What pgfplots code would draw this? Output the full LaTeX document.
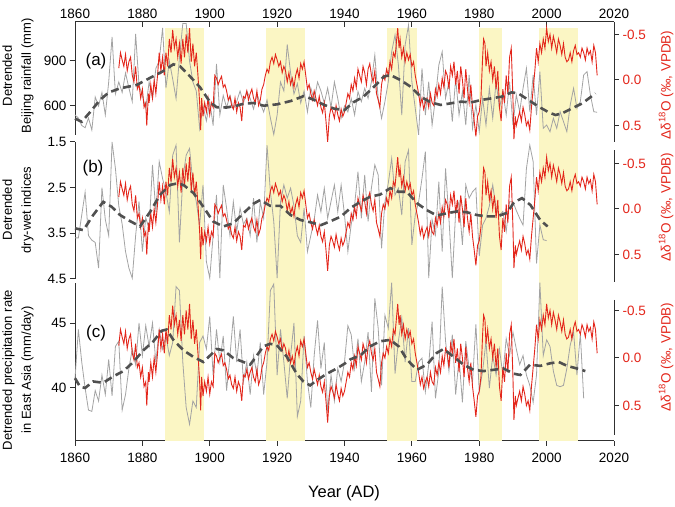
\documentclass[border=0pt]{standalone}
\usepackage{pgfplots}
\usepackage{pgfplotstable}
\pgfplotsset{compat=1.18}
\usepackage{fontspec}
\setmainfont{Liberation Sans}
\definecolor{myred}{HTML}{E3261B}
\definecolor{mygray}{HTML}{A3A3A3}
\definecolor{mydash}{HTML}{505050}
\definecolor{myyellow}{HTML}{FBF6C4}
\definecolor{axcol}{HTML}{303030}

\pgfplotstableread[row sep=\\]{year d\\
1873.0 -0.13\\ 1873.5 -0.30\\ 1874.0 -0.22\\ 1874.5 -0.15\\ 1875.0 -0.28\\ 1875.5 -0.10\\ 1876.0 -0.20\\ 1876.5 -0.25\\ 1877.0 -0.05\\ 1877.5 0.02\\
1878.0 -0.15\\ 1878.5 0.10\\ 1879.0 0.05\\ 1879.5 0.20\\ 1880.0 0.10\\ 1880.5 0.30\\ 1881.0 0.25\\ 1881.3 0.50\\ 1881.8 0.15\\ 1882.0 0.25\\
1882.5 0.05\\ 1883.0 0.20\\ 1883.5 0.00\\ 1884.0 0.15\\ 1884.5 -0.05\\ 1885.0 -0.30\\ 1885.5 -0.10\\ 1886.0 -0.25\\ 1886.5 -0.05\\ 1887.0 -0.30\\
1887.5 -0.15\\ 1888.0 -0.45\\ 1888.5 -0.30\\ 1889.0 -0.55\\ 1889.5 -0.35\\ 1890.0 -0.45\\ 1890.5 -0.25\\ 1891.0 -0.40\\ 1891.5 -0.18\\ 1892.0 -0.45\\
1892.5 -0.25\\ 1893.0 -0.50\\ 1893.5 -0.30\\ 1894.0 -0.57\\ 1894.5 -0.20\\ 1895.0 -0.40\\ 1895.5 -0.15\\ 1896.0 -0.30\\ 1896.5 -0.05\\ 1897.0 0.25\\
1897.3 0.55\\ 1897.6 0.20\\ 1898.0 0.40\\ 1898.5 0.25\\ 1899.0 0.35\\ 1899.5 0.20\\ 1900.0 0.38\\ 1900.5 0.25\\ 1901.0 0.30\\ 1901.5 -0.05\\
1902.0 -0.02\\ 1902.5 0.05\\ 1903.0 0.00\\ 1903.5 -0.04\\ 1904.0 0.08\\ 1904.5 0.05\\ 1905.0 0.12\\ 1905.5 0.22\\ 1906.0 0.18\\ 1906.5 0.28\\
1907.0 0.32\\ 1907.5 0.20\\ 1908.0 0.35\\ 1908.5 0.25\\ 1909.0 0.30\\ 1909.5 0.45\\ 1910.0 0.18\\ 1910.5 0.20\\ 1911.0 0.12\\ 1911.5 0.22\\
1912.0 0.15\\ 1912.5 0.10\\ 1913.0 0.20\\ 1913.5 0.25\\ 1914.0 0.12\\ 1914.5 0.28\\ 1915.0 0.22\\ 1915.5 0.10\\ 1916.0 0.05\\ 1916.5 -0.05\\
1917.0 -0.12\\ 1917.5 -0.08\\ 1918.0 -0.20\\ 1918.5 -0.25\\ 1919.0 -0.18\\ 1919.5 -0.28\\ 1920.0 -0.22\\ 1920.5 -0.15\\ 1921.0 -0.20\\ 1921.5 -0.08\\
1922.0 -0.15\\ 1922.5 -0.10\\ 1923.0 0.02\\ 1923.5 -0.08\\ 1924.0 0.05\\ 1924.5 -0.02\\ 1925.0 0.08\\ 1925.5 -0.05\\ 1926.0 -0.12\\ 1926.5 -0.02\\
1927.0 -0.18\\ 1927.5 -0.12\\ 1928.0 -0.20\\ 1928.5 -0.05\\ 1929.0 0.10\\ 1929.5 0.05\\ 1930.0 0.15\\ 1930.5 0.22\\ 1931.0 0.12\\ 1931.5 0.20\\
1932.0 0.28\\ 1932.5 0.18\\ 1933.0 0.30\\ 1933.5 0.36\\ 1934.0 0.25\\ 1934.5 0.45\\ 1935.0 0.68\\ 1935.5 0.40\\ 1936.0 0.30\\ 1936.5 0.35\\
1937.0 0.42\\ 1937.5 0.28\\ 1938.0 0.38\\ 1938.5 0.45\\ 1939.0 0.32\\ 1939.5 0.40\\ 1940.0 0.35\\ 1940.5 0.25\\ 1941.0 0.15\\ 1941.5 0.20\\
1942.0 0.05\\ 1942.5 0.12\\ 1943.0 -0.02\\ 1943.5 0.08\\ 1944.0 -0.12\\ 1944.5 -0.05\\ 1945.0 0.02\\ 1945.5 -0.15\\ 1946.0 -0.08\\ 1946.5 0.05\\
1947.0 -0.12\\ 1947.5 -0.18\\ 1948.0 -0.05\\ 1948.5 0.02\\ 1949.0 -0.10\\ 1949.5 0.15\\ 1950.0 0.22\\ 1950.5 0.30\\ 1951.0 0.05\\ 1951.5 -0.05\\
1952.0 0.00\\ 1952.5 -0.12\\ 1953.0 -0.05\\ 1953.5 -0.20\\ 1954.0 -0.12\\ 1954.5 -0.30\\ 1955.0 -0.25\\ 1955.5 -0.45\\ 1955.8 -0.57\\ 1956.2 -0.35\\
1956.5 -0.45\\ 1957.0 -0.25\\ 1957.5 -0.35\\ 1958.0 -0.20\\ 1958.5 -0.30\\ 1959.0 -0.22\\ 1959.5 -0.28\\ 1960.0 -0.15\\ 1960.5 -0.20\\ 1961.0 -0.05\\
1961.5 0.05\\ 1962.0 0.15\\ 1962.5 0.28\\ 1963.0 0.20\\ 1963.5 0.32\\ 1964.0 0.25\\ 1964.5 0.20\\ 1965.0 0.30\\ 1965.5 0.15\\ 1966.0 0.25\\
1966.5 0.28\\ 1967.0 0.10\\ 1967.5 0.18\\ 1968.0 0.05\\ 1968.5 0.15\\ 1969.0 -0.02\\ 1969.5 0.08\\ 1970.0 -0.10\\ 1970.5 -0.05\\ 1971.0 0.10\\
1971.5 -0.15\\ 1972.0 -0.05\\ 1972.5 -0.20\\ 1973.0 0.05\\ 1973.5 -0.10\\ 1974.0 0.15\\ 1974.5 -0.15\\ 1975.0 0.00\\ 1975.5 0.20\\ 1976.0 -0.12\\
1976.5 0.10\\ 1977.0 0.25\\ 1977.5 0.05\\ 1978.0 0.30\\ 1978.5 0.45\\ 1979.0 0.62\\ 1979.5 0.40\\ 1980.0 0.35\\ 1980.5 0.20\\ 1981.0 -0.25\\
1981.3 -0.45\\ 1981.7 -0.40\\ 1982.0 -0.15\\ 1982.5 -0.30\\ 1983.0 -0.10\\ 1983.5 -0.20\\ 1984.0 0.00\\ 1984.5 -0.15\\ 1985.0 0.10\\ 1985.5 -0.10\\
1986.0 0.30\\ 1986.5 0.45\\ 1987.0 0.10\\ 1987.5 0.25\\ 1988.0 -0.05\\ 1988.5 0.15\\ 1989.0 -0.25\\ 1989.5 -0.35\\ 1990.0 0.20\\ 1990.3 0.65\\
1990.7 0.40\\ 1991.0 0.50\\ 1991.5 0.42\\ 1992.0 0.35\\ 1992.5 0.45\\ 1993.0 0.30\\ 1993.5 0.38\\ 1994.0 0.50\\ 1994.5 0.45\\ 1995.0 0.55\\
1995.5 0.30\\ 1996.0 0.10\\ 1996.5 -0.10\\ 1997.0 -0.35\\ 1997.5 -0.20\\ 1998.0 -0.40\\ 1998.5 -0.30\\ 1999.0 -0.45\\ 1999.5 -0.35\\ 2000.0 -0.57\\
2000.5 -0.42\\ 2001.0 -0.50\\ 2001.5 -0.35\\ 2002.0 -0.48\\ 2002.5 -0.40\\ 2003.0 -0.30\\ 2003.5 -0.45\\ 2004.0 -0.38\\ 2004.5 -0.28\\ 2005.0 -0.40\\
2005.5 -0.25\\ 2006.0 -0.20\\ 2006.5 -0.22\\ 2007.0 -0.30\\ 2007.5 -0.20\\ 2008.0 -0.32\\ 2008.5 -0.38\\ 2009.0 -0.28\\ 2009.5 -0.30\\ 2010.0 -0.25\\
2010.5 -0.35\\ 2011.0 -0.30\\ 2011.5 -0.22\\ 2012.0 -0.35\\ 2012.5 -0.28\\ 2013.0 -0.32\\ 2013.5 -0.20\\ 2014.0 -0.38\\ 2014.5 -0.30\\ 2015.0 -0.05\\
}\redtab

\pgfplotstableread[row sep=\\]{year v\\
1860 540\\ 1861 520\\ 1862 470\\ 1863 455\\ 1864 520\\ 1865 440\\ 1866 660\\ 1867 600\\ 1868 690\\ 1869 540\\
1870 760\\ 1871 1060\\ 1872 680\\ 1873 760\\ 1874 690\\ 1875 820\\ 1876 720\\ 1877 630\\ 1878 1080\\ 1879 740\\
1880 670\\ 1881 585\\ 1882 760\\ 1883 650\\ 1884 850\\ 1885 900\\ 1886 1120\\ 1887 720\\ 1888 900\\ 1889 780\\
1890 650\\ 1891 920\\ 1892 1150\\ 1893 1150\\ 1894 900\\ 1895 760\\ 1896 700\\ 1897 450\\ 1898 600\\ 1899 500\\
1900 630\\ 1901 470\\ 1902 880\\ 1903 540\\ 1904 670\\ 1905 590\\ 1906 670\\ 1907 580\\ 1908 630\\ 1909 700\\
1910 620\\ 1911 700\\ 1912 650\\ 1913 580\\ 1914 680\\ 1915 620\\ 1916 560\\ 1917 640\\ 1918 520\\ 1919 410\\
1920 540\\ 1921 760\\ 1922 700\\ 1923 1010\\ 1924 820\\ 1925 680\\ 1926 750\\ 1927 620\\ 1928 700\\ 1929 560\\
1930 720\\ 1931 640\\ 1932 760\\ 1933 700\\ 1934 620\\ 1935 720\\ 1936 590\\ 1937 760\\ 1938 650\\ 1939 520\\
1940 600\\ 1941 560\\ 1942 650\\ 1943 540\\ 1944 696\\ 1945 629\\ 1946 718\\ 1947 651\\ 1948 762\\ 1949 940\\
1950 651\\ 1951 518\\ 1952 629\\ 1953 762\\ 1954 962\\ 1955 1073\\ 1956 873\\ 1957 540\\ 1958 1007\\ 1959 1140\\
1960 762\\ 1961 584\\ 1962 407\\ 1963 851\\ 1964 540\\ 1965 762\\ 1966 473\\ 1967 651\\ 1968 873\\ 1969 962\\
1970 651\\ 1971 762\\ 1972 496\\ 1973 784\\ 1974 540\\ 1975 696\\ 1976 473\\ 1977 807\\ 1978 451\\ 1979 607\\
1980 429\\ 1981 651\\ 1982 473\\ 1983 718\\ 1984 518\\ 1985 762\\ 1986 584\\ 1987 696\\ 1988 540\\ 1989 762\\
1990 473\\ 1991 673\\ 1992 562\\ 1993 718\\ 1994 851\\ 1995 562\\ 1996 807\\ 1997 540\\ 1998 829\\ 1999 451\\
2000 473\\ 2001 429\\ 2002 518\\ 2003 451\\ 2004 562\\ 2005 496\\ 2006 429\\ 2007 607\\ 2008 718\\ 2009 584\\
2010 629\\ 2011 807\\ 2012 829\\ 2013 673\\ 2014 562\\ 2015 558\\
}\grayA

\pgfplotstableread[row sep=\\]{year v\\
1860 516\\ 1862 495\\ 1864.5 560\\ 1867.4 640\\ 1870 690\\ 1873.4 718\\ 1878.3 740\\ 1883 796\\ 1886 830\\ 1889.2 878\\
1891.2 865\\ 1894.2 796\\ 1897.1 725\\ 1900 629\\ 1902 592\\ 1905 590\\ 1908 602\\ 1910 615\\ 1913 620\\ 1916 602\\
1920 611\\ 1924 633\\ 1928 667\\ 1931 640\\ 1934 607\\ 1937 582\\ 1940 573\\ 1942.6 624\\ 1945.6 662\\ 1948.8 729\\
1951.7 796\\ 1953.6 807\\ 1956.6 773\\ 1959.6 729\\ 1962.6 662\\ 1965.6 624\\ 1968.6 607\\ 1971.6 618\\ 1974.6 629\\ 1977.6 624\\
1980.6 640\\ 1983.6 651\\ 1986.6 662\\ 1989.6 691\\ 1991.6 684\\ 1994.6 640\\ 1997.6 596\\ 2000.6 558\\ 2002.6 540\\ 2004.6 551\\
2007.6 585\\ 2010.6 618\\ 2014.5 684\\
}\dashA

\pgfplotstableread[row sep=\\]{year v\\
1860 3.60\\ 1861 3.60\\ 1862 3.10\\ 1863 2.60\\ 1864 3.55\\ 1865 3.65\\ 1866 3.70\\ 1867 4.26\\ 1868 2.50\\ 1869 3.20\\
1870 3.55\\ 1871 1.50\\ 1872 2.08\\ 1873 2.90\\ 1874 3.30\\ 1875 3.90\\ 1876 4.26\\ 1877 4.48\\ 1878 3.55\\ 1879 2.80\\
1880 3.90\\ 1881 3.16\\ 1882 3.40\\ 1883 2.00\\ 1884 3.03\\ 1885 1.93\\ 1886 2.30\\ 1887 2.60\\ 1888 3.03\\ 1889 1.79\\
1890 1.57\\ 1891 3.70\\ 1892 2.30\\ 1893 1.79\\ 1894 1.64\\ 1895 2.40\\ 1896 2.81\\ 1897 3.32\\ 1898 2.44\\ 1899 4.12\\
1900 4.48\\ 1901 3.55\\ 1902 2.66\\ 1903 4.48\\ 1904 2.44\\ 1905 2.95\\ 1906 3.55\\ 1907 2.81\\ 1908 3.46\\ 1909 2.95\\
1910 3.30\\ 1911 3.17\\ 1912 3.55\\ 1913 2.73\\ 1914 3.70\\ 1915 2.81\\ 1916 3.17\\ 1917 1.57\\ 1918 2.59\\ 1919 3.24\\
1920 4.48\\ 1921 2.81\\ 1922 2.44\\ 1923 2.73\\ 1924 2.51\\ 1925 2.90\\ 1926 3.55\\ 1927 3.70\\ 1928 2.95\\ 1929 3.90\\
1930 3.55\\ 1931 3.20\\ 1932 2.66\\ 1933 3.03\\ 1934 2.51\\ 1935 3.17\\ 1936 2.80\\ 1937 2.44\\ 1938 3.03\\ 1939 2.44\\
1940 3.10\\ 1941 3.90\\ 1942 3.30\\ 1943 2.88\\ 1944 2.15\\ 1945 3.17\\ 1946 2.22\\ 1947 3.24\\ 1948 2.50\\ 1949 2.00\\
1950 2.22\\ 1951 3.83\\ 1952 2.81\\ 1953 2.40\\ 1954 1.86\\ 1955 2.66\\ 1956 2.51\\ 1957 3.10\\ 1958 1.93\\ 1959 1.68\\
1960 3.75\\ 1961 3.10\\ 1962 2.81\\ 1963 2.30\\ 1964 1.71\\ 1965 4.48\\ 1966 3.20\\ 1967 3.53\\ 1968 2.37\\ 1969 3.90\\
1970 2.08\\ 1971 3.17\\ 1972 4.48\\ 1973 3.02\\ 1974 2.81\\ 1975 3.75\\ 1976 2.44\\ 1977 2.73\\ 1978 2.59\\ 1979 2.51\\
1980 4.00\\ 1981 3.32\\ 1982 3.17\\ 1983 2.90\\ 1984 2.44\\ 1985 2.95\\ 1986 3.10\\ 1987 3.02\\ 1988 3.46\\ 1989 2.81\\
1990 2.81\\ 1991 3.00\\ 1992 3.17\\ 1993 3.32\\ 1994 2.08\\ 1995 1.57\\ 1996 1.93\\ 1997 4.16\\ 1998 3.32\\ 1999 3.64\\
2000 3.66\\
}\grayB

\pgfplotstableread[row sep=\\]{year v\\
1860 3.39\\ 1862.5 3.43\\ 1865.4 3.10\\ 1868.4 2.81\\ 1870.9 2.92\\ 1873.4 3.10\\ 1876.3 3.23\\ 1879.3 3.35\\ 1882.3 3.03\\ 1885.2 2.66\\
1888.2 2.44\\ 1890.2 2.41\\ 1892.2 2.44\\ 1895.2 2.62\\ 1898.1 2.92\\ 1901 3.24\\ 1904 3.35\\ 1907 3.28\\ 1910 3.06\\ 1913 2.85\\
1915 2.77\\ 1918 2.90\\ 1921 2.90\\ 1924 3.10\\ 1927 3.21\\ 1930 3.26\\ 1933 3.32\\ 1936 3.23\\ 1939 3.13\\ 1941.7 2.95\\
1944.7 2.81\\ 1947.6 2.70\\ 1950.6 2.65\\ 1953.6 2.51\\ 1956 2.59\\ 1958.5 2.59\\ 1961.5 2.84\\ 1964.4 2.99\\ 1967.4 3.11\\ 1970.4 3.06\\
1973.4 3.02\\ 1976.4 3.04\\ 1979.3 3.10\\ 1982.3 3.13\\ 1985.3 3.13\\ 1988.3 3.05\\ 1990.3 2.82\\ 1992.7 2.73\\ 1995.2 2.88\\ 1998.1 3.21\\
2000.3 3.35\\
}\dashB

\pgfplotstableread[row sep=\\]{year v\\
1860 40.7\\ 1861 44.5\\ 1862 42.0\\ 1863 40.0\\ 1864 38.3\\ 1865 38.2\\ 1866 39.8\\ 1867 39.0\\ 1868 41.0\\ 1869 39.5\\
1870 42.2\\ 1871 39.4\\ 1872 43.2\\ 1873 43.6\\ 1874 38.3\\ 1875 39.5\\ 1876 41.5\\ 1877 43.0\\ 1878 41.8\\ 1879 45.0\\
1880 42.5\\ 1881 44.8\\ 1882 43.2\\ 1883 45.0\\ 1884 42.0\\ 1885 44.5\\ 1886 43.0\\ 1887 44.0\\ 1888 42.5\\ 1889 43.5\\
1890 47.8\\ 1891 47.5\\ 1892 42.0\\ 1893 38.5\\ 1894 37.2\\ 1895 39.0\\ 1896 38.5\\ 1897 43.5\\ 1898 44.0\\ 1899 43.0\\
1900 45.5\\ 1901 41.0\\ 1902 44.5\\ 1903 42.0\\ 1904 44.0\\ 1905 39.8\\ 1906 42.5\\ 1907 45.5\\ 1908 42.0\\ 1909 44.5\\
1910 40.5\\ 1911 42.0\\ 1912 39.5\\ 1913 42.5\\ 1914 41.0\\ 1915 43.5\\ 1916 39.5\\ 1917 42.0\\ 1918 47.5\\ 1919 48.0\\
1920 41.0\\ 1921 44.5\\ 1922 42.0\\ 1923 39.2\\ 1924 42.5\\ 1925 45.0\\ 1926 37.8\\ 1927 39.0\\ 1928 44.0\\ 1929 40.5\\
1930 38.5\\ 1931 42.5\\ 1932 45.2\\ 1933 41.5\\ 1934 43.5\\ 1935 38.2\\ 1936 41.0\\ 1937 39.0\\ 1938 41.5\\ 1939 40.5\\
1940 42.0\\ 1941 44.8\\ 1942 44.1\\ 1943 41.5\\ 1944 43.8\\ 1945 40.5\\ 1946 42.0\\ 1947 44.3\\ 1948 39.7\\ 1949 46.9\\
1950 44.6\\ 1951 40.2\\ 1952 45.6\\ 1953 44.6\\ 1954 48.1\\ 1955 41.1\\ 1956 43.6\\ 1957 45.4\\ 1958 42.0\\ 1959 44.6\\
1960 40.5\\ 1961 40.5\\ 1962 42.0\\ 1963 42.3\\ 1964 39.7\\ 1965 41.8\\ 1966 45.1\\ 1967 39.2\\ 1968 41.3\\ 1969 47.8\\
1970 43.6\\ 1971 41.3\\ 1972 44.1\\ 1973 39.5\\ 1974 42.3\\ 1975 38.9\\ 1976 43.6\\ 1977 41.5\\ 1978 40.5\\ 1979 44.9\\
1980 39.7\\ 1981 41.3\\ 1982 43.6\\ 1983 40.0\\ 1984 42.5\\ 1985 41.0\\ 1986 43.0\\ 1987 41.0\\ 1988 43.8\\ 1989 42.5\\
1990 44.3\\ 1991 43.0\\ 1992 41.8\\ 1993 42.5\\ 1994 41.0\\ 1995 40.2\\ 1996 38.9\\ 1997 41.0\\ 1998 48.1\\ 1999 42.5\\
2000 43.7\\ 2001 43.2\\ 2002 41.3\\ 2003 40.2\\ 2004 40.1\\ 2005 40.2\\ 2006 41.5\\ 2007 43.3\\ 2008 44.3\\ 2009 41.0\\
2010 44.2\\ 2011 39.2\\
}\grayC

\pgfplotstableread[row sep=\\]{year v\\
1860 40.75\\ 1861.5 40.1\\ 1863 40.0\\ 1865.4 40.5\\ 1868.4 40.4\\ 1871.4 40.9\\ 1874.4 41.3\\ 1877.3 42.0\\ 1880.3 42.9\\ 1883.3 43.6\\
1885.7 44.4\\ 1887.2 44.5\\ 1889.2 43.7\\ 1892.2 42.9\\ 1895.1 42.4\\ 1898.1 42.0\\ 1900.1 42.5\\ 1902.1 43.0\\ 1904.1 42.9\\ 1907 42.3\\
1910 42.0\\ 1912 41.8\\ 1914 42.5\\ 1915.9 43.2\\ 1917.9 43.4\\ 1919.9 43.3\\ 1922.9 42.4\\ 1925.8 41.1\\ 1927.8 40.5\\ 1929.8 40.2\\
1931.8 40.6\\ 1934.8 41.1\\ 1937.7 41.5\\ 1940.2 41.9\\ 1941.7 42.2\\ 1944.7 42.5\\ 1947.6 43.2\\ 1950.6 43.6\\ 1953.6 43.7\\ 1956.1 43.2\\
1958.5 42.2\\ 1961.5 41.4\\ 1964.5 41.8\\ 1967.4 42.7\\ 1969.4 43.0\\ 1972.4 42.4\\ 1975.3 41.8\\ 1978.3 41.4\\ 1981.3 41.3\\ 1984.3 41.4\\
1987.2 41.5\\ 1990.2 41.1\\ 1992.2 41.0\\ 1995.1 41.8\\ 1998.1 41.7\\ 2001.1 41.9\\ 2003.6 42.0\\ 2006.1 41.7\\ 2009 41.5\\ 2011.5 41.3\\
}\dashC

\pgfplotsset{
  base/.style={scale only axis, width=539bp, xmin=1860, xmax=2020, clip=false, anchor=south west,
    axis line style={axcol, line width=1bp}, tick style={axcol, line width=1bp},
    major tick length=5bp,
    /pgf/number format/assume math mode=true, /pgf/number format/1000 sep={},
    ticklabel style={font=\fontsize{13.5bp}{16bp}\selectfont},
    tick align=outside},
  dec/.style={/pgf/number format/.cd, fixed, fixed zerofill, precision=1},
  leftax/.style={base, axis x line=none, axis y line*=left},
  rightax/.style={base, axis x line=none, axis y line*=right, y dir=reverse, ytick={-0.5,0,0.5},
    yticklabel style={text=myred, dec}},
  grayline/.style={mygray, line width=0.8bp, no marks},
  redline/.style={myred, line width=0.9bp, no marks},
  dashline/.style={mydash, line width=2.6bp, no marks, dash pattern=on 8bp off 4.5bp},
  panA/.style={at={(75bp,372bp)}, height=113bp, ymin=406.7, ymax=1160},
  panB/.style={at={(75bp,228bp)}, height=137bp, ymin=1.5, ymax=4.5, y dir=reverse},
  panC/.style={at={(75bp,66bp)}, height=158bp, ymin=35.92, ymax=48.08},
}

\begin{document}
\begin{tikzpicture}
% frame: shading + bottom axis
\begin{axis}[base, at={(75bp,66bp)}, height=419bp, ymin=0, ymax=1,
  axis x line*=bottom, axis y line=none, xtick={1860,1880,...,2020},
  xticklabel style={yshift=-4bp}]
  \addplot[fill=myyellow, draw=none] coordinates {(1886.6,0) (1886.6,0.986) (1898.2,0.986) (1898.2,0)} -- cycle;
  \addplot[fill=myyellow, draw=none] coordinates {(1916.7,0) (1916.7,0.986) (1928.3,0.986) (1928.3,0)} -- cycle;
  \addplot[fill=myyellow, draw=none] coordinates {(1952.7,0) (1952.7,0.986) (1961.5,0.986) (1961.5,0)} -- cycle;
  \addplot[fill=myyellow, draw=none] coordinates {(1979.9,0) (1979.9,0.986) (1986.7,0.986) (1986.7,0)} -- cycle;
  \addplot[fill=myyellow, draw=none] coordinates {(1997.7,0) (1997.7,0.986) (2009.2,0.986) (2009.2,0)} -- cycle;
\end{axis}
% top axis
\begin{axis}[base, at={(75bp,66bp)}, height=419bp, ymin=0, ymax=1,
  axis x line*=top, axis y line=none, xtick={1860,1880,...,2020}, tick align=inside]
  \addplot[draw=none] coordinates {(1860,0.5)};
\end{axis}

% ---- panel (a)
\begin{axis}[leftax, panA, ytick={600,900}]
  \addplot[grayline] table[x=year,y=v] {\grayA};
\end{axis}
\begin{axis}[rightax, at={(75bp,365bp)}, height=120bp, ymin=-0.637, ymax=0.681]
  \addplot[redline] table[x=year,y=d] {\redtab};
\end{axis}
\begin{axis}[base, panA, hide axis]
  \addplot[dashline] table[x=year,y=v] {\dashA};
\end{axis}

% ---- panel (b)
\begin{axis}[leftax, panB, ytick={1.5,2.5,3.5,4.5}, yticklabel style={dec}]
  \addplot[grayline] table[x=year,y=v] {\grayB};
\end{axis}
\begin{axis}[rightax, at={(75bp,225bp)}, height=132bp, ymin=-0.648, ymax=0.802]
  \addplot[redline] table[x=year,y=d] {\redtab};
\end{axis}
\begin{axis}[base, panB, hide axis]
  \addplot[dashline] table[x=year,y=v] {\dashB};
\end{axis}

% ---- panel (c)
\begin{axis}[leftax, panC, ytick={40,45}]
  \addplot[grayline] table[x=year,y=v] {\grayC};
\end{axis}
\begin{axis}[rightax, at={(75bp,72bp)}, height=135bp, ymin=-0.61, ymax=0.81]
  \addplot[redline] table[x=year,y=d] {\redtab};
\end{axis}
\begin{axis}[base, panC, hide axis]
  \addplot[dashline] table[x=year,y=v] {\dashC};
\end{axis}

% labels
\node[font=\fontsize{17bp}{20bp}\selectfont] at (96bp,446bp) {(a)};
\node[font=\fontsize{17bp}{20bp}\selectfont] at (93bp,339bp) {(b)};
\node[font=\fontsize{17bp}{20bp}\selectfont] at (96bp,174bp) {(c)};
\node[rotate=90, align=center, font=\fontsize{13bp}{19bp}\selectfont] at (18bp,431bp) {Detrended\\Beijing rainfall (mm)};
\node[rotate=90, align=center, font=\fontsize{13bp}{19bp}\selectfont] at (18bp,297bp) {Detrended\\dry-wet indices};
\node[rotate=90, align=center, font=\fontsize{13bp}{19bp}\selectfont] at (18bp,137bp) {Detrended precipitation rate\\in East Asia (mm/day)};
\node[rotate=90, text=myred, font=\fontsize{13.5bp}{16bp}\selectfont] at (666bp,422bp) {Δδ\textsuperscript{18}O (‰, VPDB)};
\node[rotate=90, text=myred, font=\fontsize{13.5bp}{16bp}\selectfont] at (666bp,300bp) {Δδ\textsuperscript{18}O (‰, VPDB)};
\node[rotate=90, text=myred, font=\fontsize{13.5bp}{16bp}\selectfont] at (666bp,150bp) {Δδ\textsuperscript{18}O (‰, VPDB)};
\node[font=\fontsize{16.5bp}{20bp}\selectfont] at (344bp,14bp) {Year (AD)};

\pgfresetboundingbox
\path (0,0) rectangle (675bp,507bp);
\end{tikzpicture}
\end{document}
